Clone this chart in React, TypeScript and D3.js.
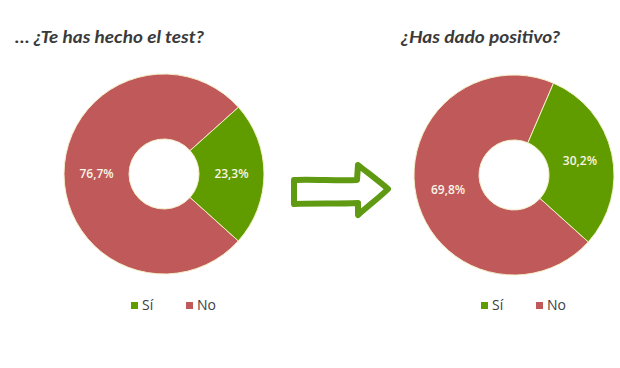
import React from "react";
import * as d3 from "d3";

const categories = ["Sí", "No"];
const testValues = [23.3, 76.7];
const positiveValues = [30.2, 69.8];
const titles = ["… ¿Te has hecho el test?", "¿Has dado positivo?"];
const colors = ["#609c00", "#c0595a"];

const W = 620;
const H = 368;

type DonutProps = {
  cx: number;
  cy: number;
  values: number[];
};

function Donut({ cx, cy, values }: DonutProps) {
  const outer = 100;
  const inner = 35;
  const start = (132 * Math.PI) / 180;
  // slices drawn clockwise starting with "No", ending with "Sí"
  const order = [1, 0];
  const pie = d3
    .pie<number>()
    .sort(null)
    .value((i) => values[i])
    .startAngle(start)
    .endAngle(start + 2 * Math.PI);
  const arcs = pie(order);
  const arc = d3.arc<d3.PieArcDatum<number>>().innerRadius(inner).outerRadius(outer);
  const fmt = (v: number) => v.toFixed(1).replace(".", ",") + "%";
  return (
    <g transform={`translate(${cx},${cy})`}>
      {arcs.map((a) => (
        <path key={a.data} d={arc(a) || ""} fill={colors[a.data]} stroke="#f3efc6" strokeWidth={1} />
      ))}
      {arcs.map((a) => {
        const [x, y] = arc.centroid(a);
        return (
          <text
            key={"l" + a.data}
            x={x}
            y={y}
            dy="0.35em"
            textAnchor="middle"
            fontFamily="'Open Sans', Lato, sans-serif"
            fontSize={12}
            fontWeight={600}
            fill="#f8f4e6"
          >
            {fmt(values[a.data])}
          </text>
        );
      })}
    </g>
  );
}

function Legend({ x, y }: { x: number; y: number }) {
  const offsets = [0, 55];
  return (
    <g transform={`translate(${x},${y})`}>
      {categories.map((c, i) => (
        <g key={c} transform={`translate(${offsets[i]},0)`}>
          <rect x={0} y={-3} width={7} height={7} fill={colors[i]} />
          <text x={11} y={0} dy="0.35em" fontFamily="'Open Sans', Lato, sans-serif" fontSize={14} fill="#404040">
            {c}
          </text>
        </g>
      ))}
    </g>
  );
}

export default function App() {
  return (
    <svg
      width={W}
      height={H}
      style={{ position: "absolute", left: 0, top: 0, display: "block", background: "#fff" }}
    >
      <text
        x={15}
        y={43}
        fontFamily="Lato, 'Open Sans', sans-serif"
        fontWeight="bold"
        fontStyle="italic"
        fontSize={17}
        fill="#3a3a3a"
        textLength={189}
        lengthAdjust="spacingAndGlyphs"
      >
        {titles[0]}
      </text>
      <text
        x={401}
        y={43}
        fontFamily="Lato, 'Open Sans', sans-serif"
        fontWeight="bold"
        fontStyle="italic"
        fontSize={17}
        fill="#3a3a3a"
        textLength={159}
        lengthAdjust="spacingAndGlyphs"
      >
        {titles[1]}
      </text>
      <Donut cx={164} cy={174} values={testValues} />
      <Donut cx={514} cy={175} values={positiveValues} />
      <path
        d="M294,180 C310,179 340,181 357,180 L358,165 C368,173 380,182 388,189 C380,197 368,206 358,215 L358,203 C340,204 310,203 294,204 Z"
        fill="none"
        stroke="#5f9a12"
        strokeWidth={6}
        strokeLinejoin="round"
        strokeLinecap="round"
      />
      <Legend x={131} y={305} />
      <Legend x={481} y={305} />
    </svg>
  );
}
